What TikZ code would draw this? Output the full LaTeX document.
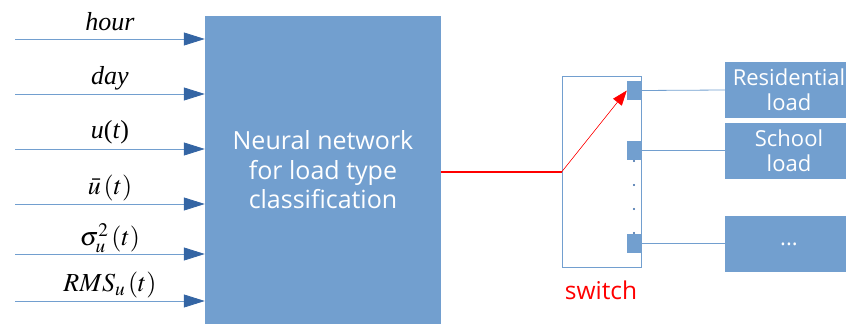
\documentclass[tikz,border=0pt]{standalone}
\usepackage{mathptmx}
\usepackage{fontspec}
\setmainfont{Liberation Serif}
\newfontfamily\uisans{Open Sans}
\usetikzlibrary{arrows.meta}
\definecolor{boxblue}{HTML}{729FCF}
\definecolor{tipblue}{HTML}{3465A4}
\tikzset{
	nnbox/.style={fill=boxblue, text=white, font=\uisans\fontsize{25}{29.5}\selectfont, align=center, inner sep=0pt},
	loadbox/.style={fill=boxblue, text=white, font=\uisans\fontsize{22}{25}\selectfont, align=center, minimum width=128, minimum height=56, inner sep=0pt},
	inwire/.style={draw=boxblue, line width=0.8, -{Triangle[length=21pt,width=13pt,color=tipblue]}},
	outwire/.style={draw=boxblue, line width=0.8},
	port/.style={fill=boxblue, minimum width=14, minimum height=19, inner sep=0pt},
	inlabel/.style={font=\fontsize{26}{30}\selectfont, inner sep=1pt},
}

\begin{document}
\begin{tikzpicture}[x=1pt, y=-1pt]
			%%%%% START %%%%%
			\useasboundingbox (0,0) rectangle (846,324);
			
			\node[nnbox, minimum width=236, minimum height=308] (nn) at (323,170) {Neural network\\for load type\\classification};
			
			\coordinate (hourin) at (15,39);
			\coordinate (dayin) at (15,94);
			\coordinate (uin) at (15,149);
			\coordinate (ubarin) at (15,204);
			\coordinate (varin) at (15,254);
			\coordinate (rmsin) at (15,301);
			
			\draw[inwire] (hourin) -- (hourin -| nn.west);
			\draw[inwire] (dayin) -- (dayin -| nn.west);
			\draw[inwire] (uin) -- (uin -| nn.west);
			\draw[inwire] (ubarin) -- (ubarin -| nn.west);
			\draw[inwire] (varin) -- (varin -| nn.west);
			\draw[inwire] (rmsin) -- (rmsin -| nn.west);
			
			\node[inlabel] (hourlbl) at (110,22) {\textit{hour}};
			\node[inlabel] (daylbl) at (110,78) {\textit{day}};
			\node[inlabel] (ulbl) at (110,132) {\textit{u}(\textit{t})};
			\node[inlabel] (ubarlbl) at (110,188) {$\bar{u}\left(t\right)$};
			\node[inlabel] (varlbl) at (110,238) {$\sigma_u^2\left(t\right)$};
			\node[inlabel] (rmslbl) at (110,285) {$RMS_u\left(t\right)$};
			
			% switch
			\node[draw=boxblue, line width=0.8, minimum width=79, minimum height=191, inner sep=0pt] (sw) at (601.5,171.5) {};
			\node[port] (resport) at (634,90.5) {};
			\node[port] (schport) at (634,150.5) {};
			\node[port] (othport) at (634,243.5) {};
			\fill[tipblue] (634,161) circle (1.2);
			\fill[tipblue] (634,185) circle (1.2);
			\fill[tipblue] (634,209) circle (1.2);
			\fill[tipblue] (634,233) circle (1.2);
			\node[text=red, font=\uisans\fontsize{24.5}{28}\selectfont] (swlbl) at (601,290) {switch};
			
			\coordinate (pivot) at (sw.west |- 0,172);
			\draw[red, line width=1.6] (pivot -| nn.east) -- (pivot);
			\draw[red, line width=0.6, -{Triangle[length=15pt,width=11pt]}] (pivot) -- (resport.west);
			
			% loads
			\node[loadbox] (res) at (789,90) {Residential\\load};
			\node[loadbox] (sch) at (789,151) {School\\load};
			\node[loadbox] (oth) at (789,244) {...};
			
			\draw[outwire] (resport.east) -- (res.west);
			\draw[outwire] (schport.east) -- (schport.east -| sch.west);
			\draw[outwire] (othport.east) -- (othport.east -| oth.west);
			
			%%%%% END %%%%%
\end{tikzpicture}
\end{document}
